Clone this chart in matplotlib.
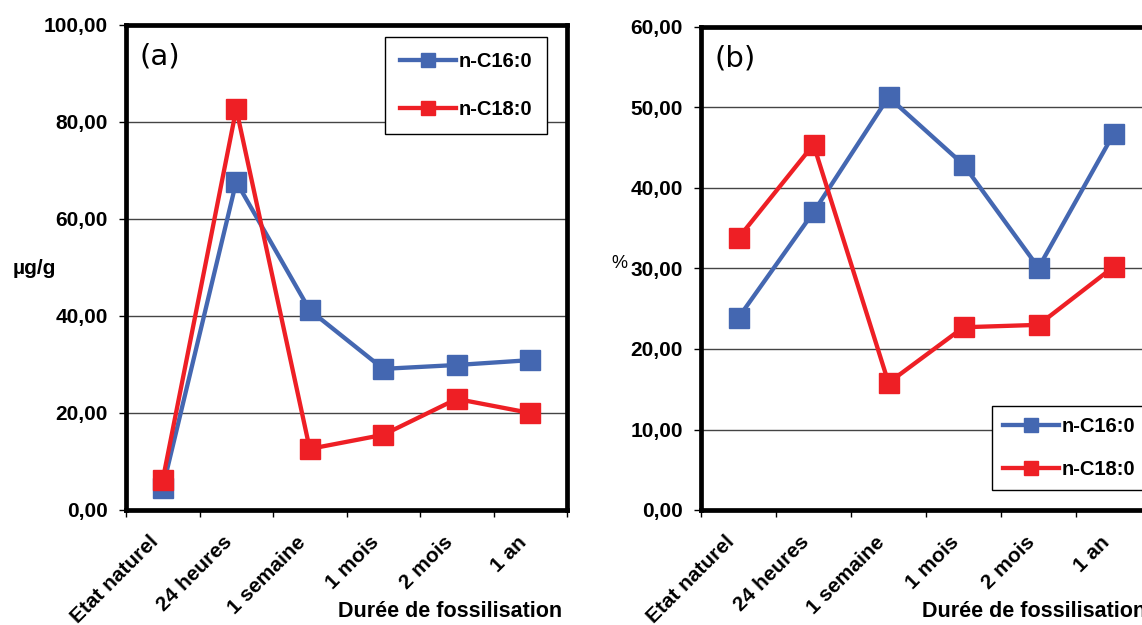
import numpy as np
import matplotlib
matplotlib.use("Agg")
import matplotlib.pyplot as plt
from matplotlib.ticker import FuncFormatter, FixedLocator
from matplotlib.transforms import ScaledTranslation

# ---------------- data ----------------
categories = ["Etat naturel", "24 heures", "1 semaine", "1 mois", "2 mois", "1 an"]
series_names = ["n-C16:0", "n-C18:0"]
a_c16 = [4.6, 67.7, 41.2, 29.1, 29.9, 30.9]
a_c18 = [6.2, 82.7, 12.6, 15.5, 22.9, 20.0]
b_c16 = [23.9, 37.0, 51.3, 42.9, 30.1, 46.7]
b_c18 = [33.8, 45.4, 15.8, 22.7, 23.0, 30.2]
a_yticks = [0, 20, 40, 60, 80, 100]
b_yticks = [0, 10, 20, 30, 40, 50, 60]

BLUE = "#4467B1"
RED = "#EE1F25"
W, H = 1142, 625
DPI = 100

plt.rcParams["font.family"] = ["Liberation Sans", "DejaVu Sans"]

fig = plt.figure(figsize=(W / DPI, H / DPI), dpi=DPI)


def px_axes(l, t, r, b):
    return fig.add_axes([l / W, 1 - b / H, (r - l) / W, (b - t) / H])


comma = FuncFormatter(lambda v, p: f"{v:.2f}".replace(".", ","))


def style(ax, yticks, panel, ylabel_xy, ylabel, ylabel_size, ylabel_weight, leg_anchor, leg_spacing, leg_pad):
    n = len(categories)
    x = np.arange(n)
    ax.set_xlim(-0.5, n - 0.5)
    ax.set_ylim(yticks[0], yticks[-1])
    ax.set_yticks(yticks)
    ax.yaxis.set_major_formatter(comma)
    ax.yaxis.grid(True, color="#444444", lw=1.0)
    ax.set_axisbelow(True)
    ax.xaxis.set_major_locator(FixedLocator(np.arange(-0.5, n, 1.0)))
    ax.xaxis.set_major_formatter(FuncFormatter(lambda v, p: ""))
    ax.xaxis.set_minor_locator(FixedLocator(x))
    ax.set_xticklabels(categories, minor=True, rotation=45, ha="right", va="center",
                       rotation_mode="anchor", fontsize=15, fontweight="bold")
    ax.tick_params(axis="x", which="minor", length=0, pad=21)
    ax.tick_params(axis="x", which="major", length=5, width=1, direction="out")
    ax.tick_params(axis="y", which="major", length=5, width=1, direction="out", pad=8,
                   labelsize=15)
    for lab in ax.get_yticklabels():
        lab.set_fontweight("bold")
    off = ScaledTranslation(-7 / DPI, 0, fig.dpi_scale_trans)
    for lab in ax.xaxis.get_minorticklabels():
        lab.set_transform(lab.get_transform() + off)
    for s in ax.spines.values():
        s.set_linewidth(3.4)
        s.set_color("black")
    ax.text(0.03, 0.935, panel, transform=ax.transAxes, fontsize=21,
            family=["DejaVu Sans"], va="center", ha="left")
    ax.text(0.99, -0.21, "Durée de fossilisation", transform=ax.transAxes,
            fontsize=15.5, fontweight="bold", ha="right", va="center")
    fig.text(ylabel_xy[0] / W, 1 - ylabel_xy[1] / H, ylabel, fontsize=ylabel_size,
             fontweight=ylabel_weight, ha="center", va="center")
    leg = ax.legend(loc="upper left", bbox_to_anchor=leg_anchor, frameon=True, fancybox=False,
                    edgecolor="black", framealpha=1, prop={"weight": "bold", "size": 14.5},
                    handlelength=2.8, handletextpad=0.1, labelspacing=leg_spacing,
                    borderpad=leg_pad, markerscale=0.7, borderaxespad=0)
    leg.get_frame().set_linewidth(1.0)


x = np.arange(len(categories))

ax1 = px_axes(126, 25, 567, 510)
ax1.plot(x, a_c16, color=BLUE, lw=3.1, marker="s", ms=15, label=series_names[0], zorder=3)
ax1.plot(x, a_c18, color=RED, lw=3.1, marker="s", ms=15, label=series_names[1], zorder=4)
style(ax1, a_yticks, "(a)", (34, 268), "µg/g", 15, "bold",
      ((385 - 126) / 441, (510 - 37) / 485), 1.45, 0.75)

ax2 = px_axes(701, 27, 1151, 510)
ax2.plot(x, b_c16, color=BLUE, lw=3.1, marker="s", ms=15, label=series_names[0], zorder=3)
ax2.plot(x, b_c18, color=RED, lw=3.1, marker="s", ms=15, label=series_names[1], zorder=4)
style(ax2, b_yticks, "(b)", (619, 263), "%", 13, "normal",
      ((992 - 701) / 450, (510 - 406) / 483), 1.2, 0.55)

fig.savefig("out.png", dpi=DPI)
